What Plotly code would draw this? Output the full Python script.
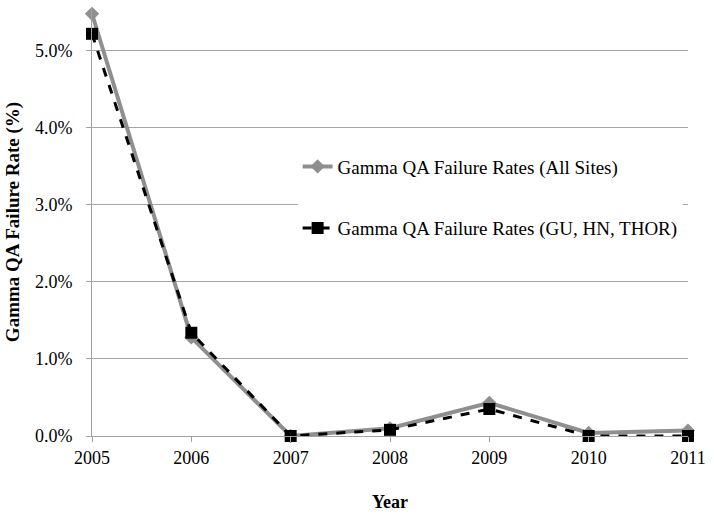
import plotly.graph_objects as go

years = [2005, 2006, 2007, 2008, 2009, 2010, 2011]
all_sites = [5.48, 1.28, 0.0, 0.10, 0.43, 0.04, 0.07]
gu_hn_thor = [5.22, 1.34, 0.0, 0.08, 0.35, 0.0, 0.0]
name_all = "Gamma QA Failure Rates (All Sites)"
name_sub = "Gamma QA Failure Rates (GU, HN, THOR)"

font = "Liberation Serif, Times New Roman, Times, serif"

fig = go.Figure()
fig.add_trace(go.Scatter(
    x=years, y=all_sites, name=name_all, mode="lines+markers",
    line=dict(color="#8f8f8f", width=4),
    marker=dict(symbol="diamond", size=11, color="#8f8f8f"),
    cliponaxis=False, legendgroup="a"))
fig.add_trace(go.Scatter(
    x=years, y=gu_hn_thor, name=name_sub, mode="lines+markers",
    line=dict(color="black", width=3, dash="dash"),
    marker=dict(symbol="square", size=12, color="black"),
    cliponaxis=False, legendgroup="b"))

tf = dict(family=font, size=18, color="black")

fig.update_layout(
    width=714, height=516,
    margin=dict(l=92, r=26, t=8, b=78),
    paper_bgcolor="white", plot_bgcolor="white",
    font=dict(family=font, size=18, color="black"),
    showlegend=True,
    legend=dict(x=0.345, y=0.674, xanchor="left", yanchor="top",
                bgcolor="white", tracegroupgap=34,
                font=dict(family=font, size=19, color="black")),
    xaxis=dict(range=[2005, 2011], dtick=1, tickformat="d",
               showgrid=False, showline=True, linecolor="#a0a0a0", linewidth=1,
               ticks="outside", ticklen=5, tickcolor="#a0a0a0",
               zeroline=False, tickfont=tf, ticklabeloverflow="allow",
               title=dict(text="<b>Year</b>", font=dict(family=font, size=18, color="black"), standoff=28)),
    yaxis=dict(range=[0, 5.555], dtick=1, tickformat=".1f", ticksuffix="%",
               showgrid=True, gridcolor="#a6a6a6", gridwidth=1,
               showline=True, linecolor="#a0a0a0", linewidth=1,
               ticks="outside", ticklen=5, tickcolor="#a0a0a0",
               zeroline=False, tickfont=tf, ticklabelstandoff=10,
               title=dict(text="<b>Gamma QA Failure Rate (%)</b>", font=dict(family=font, size=19, color="black"), standoff=10)),
)

fig.write_html("out.html", config={"displayModeBar": False},
               post_script="document.body.style.margin='0';")
